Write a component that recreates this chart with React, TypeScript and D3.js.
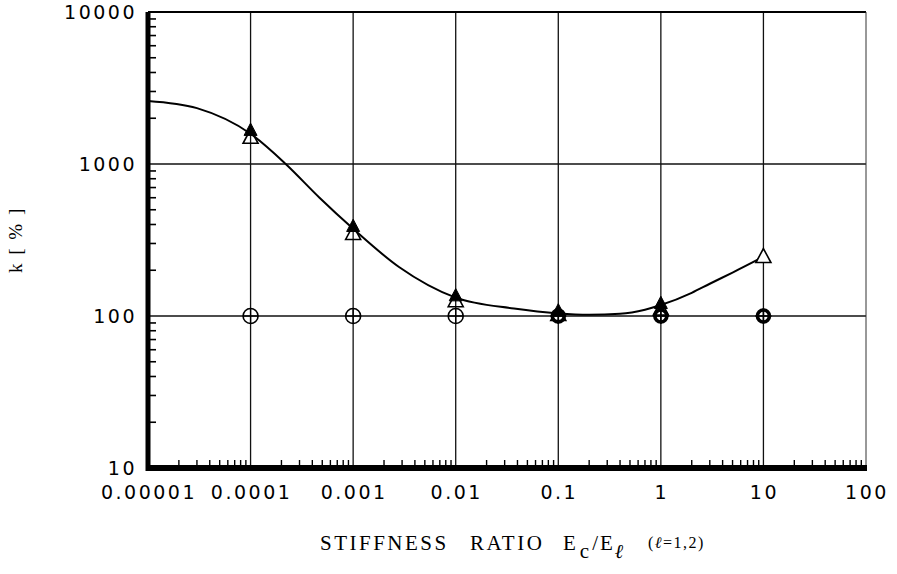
import React from "react";
import * as d3 from "d3";

// ---- data ----
const markerX = [1e-4, 1e-3, 1e-2, 0.1, 1, 10];
const openTriangleK = [1510, 352, 127, 103, 112, 248];
const filledTriangleX = [1e-4, 1e-3, 1e-2, 0.1, 1];
const filledTriangleK = [1680, 392, 137, 109, 122];
const openCircleX = [1e-4, 1e-3, 1e-2];
const openCircleK = [100, 100, 100];
const boldCircleX = [0.1, 1, 10];
const boldCircleK = [100, 100, 100];

const curveX = [1e-5, 3e-5, 1e-4, 2.2e-4, 4.7e-4, 1e-3, 2.8e-3, 1e-2, 3.7e-2, 0.1, 0.2, 0.4, 0.7, 1, 2, 3, 5, 10];
const curveK = [2600, 2330, 1580, 1000, 600, 375, 210, 132, 112, 104, 102, 103.5, 110, 118, 142, 163, 193, 245];

const xTickValues = [1e-5, 1e-4, 1e-3, 1e-2, 0.1, 1, 10, 100];
const xTickLabels = ["0.00001", "0.0001", "0.001", "0.01", "0.1", "1", "10", "100"];
const yTickValues = [10, 100, 1000, 10000];
const yTickLabels = ["10", "100", "1000", "10000"];

const W = 897;
const H = 574;
const left = 148;
const right = 866;
const top = 12;
const bottom = 468;

export default function App() {
  const x = d3.scaleLog().domain([1e-5, 100]).range([left, right]);
  const y = d3.scaleLog().domain([10, 10000]).range([bottom, top]);

  const line = d3
    .line<number>()
    .x((_, i) => x(curveX[i]))
    .y((_, i) => y(curveK[i]))
    .curve(d3.curveMonotoneX);

  // minor ticks
  const xMinor: number[] = [];
  for (let e = -5; e < 2; e++) for (let m = 2; m <= 9; m++) xMinor.push(m * Math.pow(10, e));
  const yMinor: number[] = [];
  for (let e = 1; e < 4; e++) for (let m = 2; m <= 9; m++) yMinor.push(m * Math.pow(10, e));

  const tri = (cx: number, cy: number, s: number) => {
    const h = s * 0.87;
    return `M${cx},${cy - h / 2 - 1}L${cx + s / 2},${cy + h / 2}L${cx - s / 2},${cy + h / 2}Z`;
  };

  const tickFont = "'DejaVu Sans', sans-serif";
  const serif = "'Liberation Serif', 'DejaVu Serif', serif";

  return (
    <svg
      width={W}
      height={H}
      viewBox={`0 0 ${W} ${H}`}
      style={{ position: "absolute", left: 0, top: 0, background: "#fff" }}
    >
      <rect x={0} y={0} width={W} height={H} fill="#fff" />
      {/* grid */}
      {xTickValues.slice(1, -1).map((v) => (
        <line key={"gx" + v} x1={x(v)} x2={x(v)} y1={top} y2={bottom} stroke="#111" strokeWidth={1.3} />
      ))}
      {[100, 1000].map((v) => (
        <line key={"gy" + v} x1={left} x2={right} y1={y(v)} y2={y(v)} stroke="#111" strokeWidth={1.3} />
      ))}
      {/* frame */}
      <line x1={left} x2={right} y1={top} y2={top} stroke="#000" strokeWidth={2} />
      <line x1={right} x2={right} y1={top} y2={bottom} stroke="#333" strokeWidth={1} />
      {/* minor ticks */}
      {xMinor.map((v) => (
        <line key={"mx" + v} x1={x(v)} x2={x(v)} y1={bottom} y2={bottom - 8} stroke="#000" strokeWidth={1.4} />
      ))}
      {yMinor.map((v) => (
        <line key={"my" + v} x1={left} x2={left + 8} y1={y(v)} y2={y(v)} stroke="#000" strokeWidth={1.6} />
      ))}
      {/* thick axes */}
      <line x1={left} x2={left} y1={top} y2={bottom + 3} stroke="#000" strokeWidth={5} />
      <line x1={left - 2} x2={right + 1} y1={bottom} y2={bottom} stroke="#000" strokeWidth={6} />

      {/* tick labels */}
      {xTickValues.map((v, i) => (
        <text
          key={"xt" + v}
          x={x(v) + 1}
          y={499}
          textAnchor="middle"
          fontFamily={tickFont}
          fontSize={19}
          letterSpacing={2.5}
          fill="#000"
        >
          {xTickLabels[i]}
        </text>
      ))}
      {yTickValues.map((v, i) => (
        <text
          key={"yt" + v}
          x={137}
          y={y(v) + 7}
          textAnchor="end"
          fontFamily={tickFont}
          fontSize={19}
          letterSpacing={2.5}
          fill="#000"
        >
          {yTickLabels[i]}
        </text>
      ))}

      {/* curve */}
      <path d={line(curveX) || ""} fill="none" stroke="#000" strokeWidth={2} />

      {/* open circles with cross */}
      {openCircleX.map((v, i) => (
        <g key={"oc" + v}>
          <circle cx={x(v)} cy={y(openCircleK[i])} r={7.5} fill="none" stroke="#000" strokeWidth={1.6} />
          <line x1={x(v) - 7.5} x2={x(v) + 7.5} y1={y(openCircleK[i])} y2={y(openCircleK[i])} stroke="#000" strokeWidth={1.3} />
          <line x1={x(v)} x2={x(v)} y1={y(openCircleK[i]) - 7.5} y2={y(openCircleK[i]) + 7.5} stroke="#000" strokeWidth={1.3} />
        </g>
      ))}
      {/* bold circles with cross */}
      {boldCircleX.map((v, i) => (
        <g key={"bc" + v}>
          <circle cx={x(v)} cy={y(boldCircleK[i])} r={6} fill="none" stroke="#000" strokeWidth={3.6} />
          <line x1={x(v) - 8} x2={x(v) + 8} y1={y(boldCircleK[i])} y2={y(boldCircleK[i])} stroke="#000" strokeWidth={1.6} />
          <line x1={x(v)} x2={x(v)} y1={y(boldCircleK[i]) - 8} y2={y(boldCircleK[i]) + 8} stroke="#000" strokeWidth={1.6} />
        </g>
      ))}
      {/* open triangles */}
      {markerX.map((v, i) => (
        <path key={"ot" + v} d={tri(x(v), y(openTriangleK[i]), 15)} fill="#fff" fillOpacity={i === 5 ? 1 : 0} stroke="#000" strokeWidth={1.6} />
      ))}
      {/* filled triangles */}
      {filledTriangleX.map((v, i) => (
        <path key={"ft" + v} d={tri(x(v), y(filledTriangleK[i]), 13)} fill="#000" stroke="#000" strokeWidth={1} />
      ))}

      {/* y label */}
      <text
        transform={`translate(22, 273) rotate(-90)`}
        textAnchor="start"
        fontFamily={serif}
        fontSize={19}
        letterSpacing={2}
        fill="#000"
      >
        k [ % ]
      </text>

      {/* x title */}
      <text x={320} y={550} fontFamily={serif} fontSize={21} letterSpacing={2.5} fill="#000">
        STIFFNESS
      </text>
      <text x={470} y={550} fontFamily={serif} fontSize={21} letterSpacing={2.5} fill="#000">
        RATIO
      </text>
      <text x={563} y={550} fontFamily={serif} fontSize={21} letterSpacing={2} fill="#000">
        E
        <tspan fontSize={21} dy={8} dx={2}>c</tspan>
        <tspan dy={-8} dx={1}>/E</tspan>
        <tspan fontSize={20} dy={8} fontStyle="italic">ℓ</tspan>
      </text>
      <text x={648} y={548} fontFamily={serif} fontSize={16} letterSpacing={1.5} fill="#000">
        (<tspan fontStyle="italic">ℓ</tspan>=1,2)
      </text>
    </svg>
  );
}
